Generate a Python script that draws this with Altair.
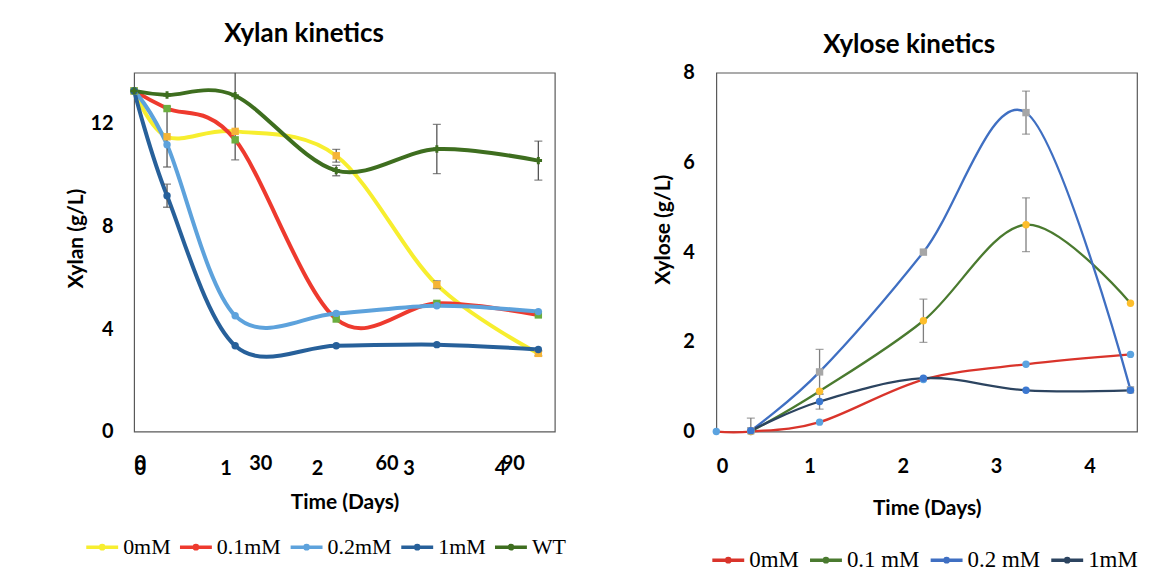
import altair as alt
import pandas as pd

# ---------------- Xylan kinetics (left panel) ----------------
xylan_days = [0, 0.36, 1.105, 2.21, 3.31, 4.42]
xylan_series = ["0mM", "0.1mM", "0.2mM", "1mM", "WT"]
xylan_0mM = [13.29, 11.50, 11.71, 10.76, 5.73, 3.05]
xylan_01mM = [13.29, 12.60, 11.38, 4.39, 5.00, 4.55]
xylan_02mM = [13.29, 11.19, 4.52, 4.61, 4.91, 4.68]
xylan_1mM = [13.29, 9.20, 3.35, 3.35, 3.39, 3.20]
xylan_WT = [13.29, 13.13, 13.10, 10.18, 11.02, 10.57]
xylan_err_0mM = [0, 1.18, 0, 0.25, 0.15, 0.10]
xylan_err_01mM = [0, 0, 0, 0, 0, 0]
xylan_err_02mM = [0, 0, 0, 0, 0, 0]
xylan_err_1mM = [0, 0.45, 0, 0, 0, 0]
xylan_err_WT = [0, 0, 2.5, 0.2, 0.96, 0.76]
xylan_day_ticks = [0, 1, 2, 3, 4]
xylan_minute_ticks = [0, 30, 60, 90]
xylan_y_ticks = [0, 4, 8, 12]

xylan_colors = ["#F7EE2F", "#EE3A2E", "#5DA2DC", "#27609A", "#3E6E1F"]
xylan_marker_colors = ["#F5B437", "#6BAE3E", "#5DA2DC", "#27609A", "#3E6E1F"]
xylan_marker_shapes = ["square", "square", "circle", "circle", "cross"]

# ---------------- Xylose kinetics (right panel) ----------------
xylose_days = [0, 0.37, 1.107, 2.22, 3.32, 4.44]
xylose_series = ["0mM", "0.1 mM", "0.2 mM", "1mM"]
xylose_0mM = [0, 0, 0.21, 1.16, 1.50, 1.72]
xylose_01mM = [None, 0, 0.90, 2.47, 4.61, 2.86]
xylose_02mM = [None, 0.02, 1.33, 4.00, 7.11, 0.93]
xylose_1mM = [None, 0.02, 0.67, 1.19, 0.92, 0.92]
xylose_err_0mM = [0, 0, 0, 0, 0, 0]
xylose_err_01mM = [0, 0, 0, 0.48, 0.60, 0]
xylose_err_02mM = [0, 0.28, 0.50, 0, 0.48, 0]
xylose_err_1mM = [0, 0, 0.17, 0, 0, 0]
xylose_day_ticks = [0, 1, 2, 3, 4]
xylose_y_ticks = [0, 2, 4, 6, 8]

xylose_colors = ["#D9342B", "#4A7A2F", "#3F6FC2", "#2C4460"]
xylose_marker_colors = ["#5BA3E0", "#FDBE2C", "#A6A6A6", "#3C78D0"]
xylose_marker_shapes = ["circle", "circle", "square", "circle"]

LEGEND_SYMBOL = "M-1,0L1,0M0.1,0A0.1,0.1,0,1,1,-0.1,0A0.1,0.1,0,1,1,0.1,0"
AX_FONT = "Lato"


def build(days, names, values, errs, tag, ymax):
    rows = []
    for name, vals, er in zip(names, values, errs):
        for d, v, e in zip(days, vals, er):
            if v is None:
                continue
            rows.append({"series": name, "mseries": tag + name, "day": d, "value": v,
                         "err": e, "lo": max(v - e, 0), "hi": min(v + e, ymax)})
    return pd.DataFrame(rows)


left_df = build(xylan_days, xylan_series,
                [xylan_0mM, xylan_01mM, xylan_02mM, xylan_1mM, xylan_WT],
                [xylan_err_0mM, xylan_err_01mM, xylan_err_02mM, xylan_err_1mM, xylan_err_WT],
                "L ", 14)
right_df = build(xylose_days, xylose_series,
                 [xylose_0mM, xylose_01mM, xylose_02mM, xylose_1mM],
                 [xylose_err_0mM, xylose_err_01mM, xylose_err_02mM, xylose_err_1mM],
                 "R ", 8)
minutes_df = pd.DataFrame({"minute": xylan_minute_ticks})
title_df = pd.DataFrame({"t": [0, 1]})


def panel(df, names, colors, mcolors, mshapes, tag, xdom, xticks, ydom, yticks, ytitle,
          x_label_pad, x_title_y, y_title_x, y_title_y, y_label_pad, line_w,
          leg_x, leg_y, leg_font, leg_colpad, err_color, msize):
    xscale = alt.Scale(domain=xdom, nice=False, zero=False)
    yscale = alt.Scale(domain=ydom, nice=False)
    xaxis = alt.Axis(values=xticks, title="Time (Days)", labelPadding=x_label_pad,
                     labelBaseline="middle", titleY=x_title_y, titleBaseline="middle")
    yaxis = alt.Axis(values=yticks, title=ytitle, labelPadding=y_label_pad,
                     titleX=y_title_x, titleY=y_title_y, titleBaseline="middle")
    mnames = [tag + n for n in names]

    def X(f):
        return alt.X(f"{f}:Q", scale=xscale, axis=xaxis)

    def Y(f):
        return alt.Y(f"{f}:Q", scale=yscale, axis=yaxis)

    base = alt.Chart(df)
    lines = base.mark_line(interpolate="cardinal", strokeWidth=line_w).encode(
        x=X("day"), y=Y("value"),
        color=alt.Color("series:N", scale=alt.Scale(domain=names, range=colors),
                        sort=names,
                        legend=alt.Legend(orient="none", legendX=leg_x, legendY=leg_y,
                                          direction="horizontal", columns=len(names),
                                          title=None, symbolType=LEGEND_SYMBOL,
                                          symbolSize=1024, symbolStrokeWidth=3.5,
                                          labelFont="Liberation Serif",
                                          labelFontSize=leg_font, labelColor="black",
                                          labelOffset=3, columnPadding=leg_colpad)))
    errs = base.transform_filter("datum.err > 0")
    rules = errs.mark_rule(color=err_color, strokeWidth=1.3, clip=True).encode(
        x=X("day"), y=Y("lo"), y2="hi:Q")
    cap_lo = errs.mark_tick(color=err_color, orient="horizontal", size=8,
                            thickness=1.3, clip=True).encode(x=X("day"), y=Y("lo"))
    cap_hi = errs.transform_filter(f"datum.hi < {ydom[1]}").mark_tick(
        color=err_color, orient="horizontal", size=8,
        thickness=1.3, clip=True).encode(x=X("day"), y=Y("hi"))
    pts = base.mark_point(filled=True, size=msize, opacity=1).encode(
        x=X("day"), y=Y("value"),
        fill=alt.Fill("mseries:N", scale=alt.Scale(domain=mnames, range=mcolors), legend=None),
        shape=alt.Shape("mseries:N", scale=alt.Scale(domain=mnames, range=mshapes), legend=None))
    return alt.layer(lines, rules, cap_lo, cap_hi, pts)


def title_layer(text, tx, ty):
    # chart title carried by an otherwise empty top axis (exact placement)
    return alt.Chart(title_df).mark_point(opacity=0).encode(
        x=alt.X("t:Q", scale=alt.Scale(domain=[0, 1]),
                axis=alt.Axis(orient="top", title=text, labels=False, ticks=False,
                              domain=False, grid=False, titleFontSize=26,
                              titleX=tx, titleY=ty, titleBaseline="middle",
                              titleAlign="center", titleAnchor="middle")))


left_data = panel(left_df, xylan_series, xylan_colors, xylan_marker_colors,
                  xylan_marker_shapes, "L ", [0, 4.6], xylan_day_ticks, [0, 14], xylan_y_ticks,
                  "Xylan (g/L)", 37, 71, -58, 166, 21, 4,
                  -50, 458, 22, 2, "#555555", 55)

minutes_layer = alt.Chart(minutes_df).mark_point(opacity=0).encode(
    x=alt.X("minute:Q", scale=alt.Scale(domain=[0, 100], nice=False),
            axis=alt.Axis(orient="bottom", values=xylan_minute_ticks, title=None,
                          labelPadding=32, labelBaseline="middle")))

left = alt.layer(left_data, minutes_layer, title_layer("Xylan kinetics", 170, -39)
                 ).resolve_scale(x="independent").properties(width=422, height=360)

right_data = panel(right_df, xylose_series, xylose_colors, xylose_marker_colors,
                   xylose_marker_shapes, "R ", [0, 4.51], xylose_day_ticks, [0, 8],
                   xylose_y_ticks, "Xylose (g/L)", 35, 77, -53, 157, 22, 2.3,
                   -6, 471, 23, 4, "#7F7F7F", 55)

right = alt.layer(right_data, title_layer("Xylose kinetics", 193, -28)
                  ).resolve_scale(x="independent").properties(width=422, height=360)

chart = alt.hconcat(left, right, spacing=162, bounds="flush").resolve_scale(
    color="independent", fill="independent", shape="independent"
).properties(
    padding={"left": 56.5, "top": 11, "right": 0, "bottom": 0}
).configure_view(stroke="#595959", strokeWidth=1.2).configure_axis(
    labelFont=AX_FONT, labelFontWeight="bold", labelFontSize=20, labelColor="black",
    titleFont=AX_FONT, titleFontWeight="bold", titleFontSize=21, titleColor="black",
    grid=False, ticks=False, domain=False
)

chart.save("out.html", embed_options={"renderer": "svg", "actions": False})
